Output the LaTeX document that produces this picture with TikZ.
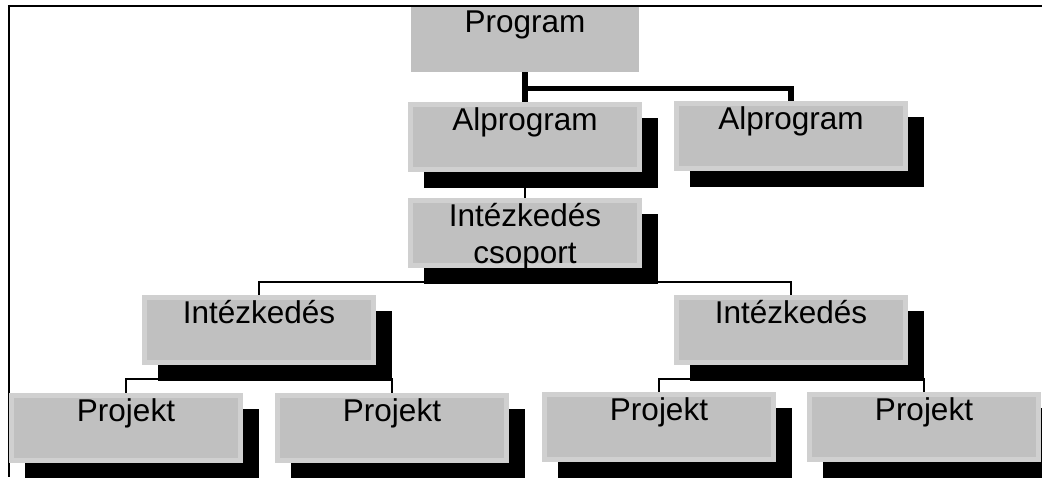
\documentclass[tikz,border=0pt]{standalone}
\usepackage{fontspec}
\setmainfont{Liberation Sans}
\usetikzlibrary{calc}
\definecolor{boxfill}{HTML}{C0C0C0}
\definecolor{boxrim}{HTML}{D0D0D0}
\pgfdeclarelayer{bg}
\pgfsetlayers{bg,main}
\newcommand{\orgnode}[4]{%
  \node[shadowbox] (#1-sh) at (#2+133,#3+51) {};
  \node[orgbox] (#1) at (#2+117,#3+35) {};
  \node[lbl] (#1-t) at (#2+117,#3+28) {#4};
}
\begin{document}
\begin{tikzpicture}[x=1pt,y=-1pt,
  orgbox/.style={draw=boxrim, fill=boxfill, line width=5pt, inner sep=0pt, outer sep=0pt, minimum width=229pt, minimum height=65pt},
  shadowbox/.style={fill=black, inner sep=0pt, outer sep=0pt, minimum width=234pt, minimum height=70pt},
  plainbox/.style={fill=boxfill, inner sep=0pt, outer sep=0pt},
  lbl/.style={font=\fontsize{31.5}{37}\selectfont, anchor=base, inner sep=0pt, text=black},
  conn/.style={line width=2pt},
  thickconn/.style={line width=5.5pt},
  frameline/.style={line width=2.5pt}]
\useasboundingbox (0,0) rectangle (1042,477);

% top node
\node[plainbox, minimum width=228pt, minimum height=65pt] (prog) at (525,39.5) {};
\node[lbl] (prog-t) at (525,32) {Program};

% boxes
\orgnode{al}{408}{102}{Alprogram}
\orgnode{ar}{674}{101}{Alprogram}
\orgnode{cs}{408}{198}{Intézkedés}
\node[lbl] (cs-t2) at (525,263) {csoport};
\orgnode{il}{142}{295}{Intézkedés}
\orgnode{ir}{674}{295}{Intézkedés}
\orgnode{pa}{9}{393}{Projekt}
\orgnode{pb}{275}{393}{Projekt}
\orgnode{pc}{542}{392}{Projekt}
\orgnode{pd}{807}{392}{Projekt}

\begin{pgfonlayer}{bg}
  % frame
  \draw[frameline] (7.75,6) -- (1042,6);
  \draw[frameline] (9,4.75) -- (9,477);
  % connectors
  \coordinate (m0) at ($(prog.south)!0.5!(al.north)$);
  \draw[thickconn] (prog.south) -- (al.north);
  \draw[thickconn] (m0) -| (ar.north);
  \draw[conn] (al.south) -- (cs.north);
  \coordinate (m1) at ($(cs.south)!0.5!(cs.south |- il.north)$);
  \draw[conn] (cs.south) -- (m1);
  \draw[conn] (il.north) |- (m1) -| (ir.north);
  \coordinate (m2) at ($(il.south)!0.5!(il.south |- pa.north)$);
  \draw[conn] (il.south) -- (m2);
  \draw[conn] (pa.north) |- (m2) -| (pb.north);
  \coordinate (m3) at ($(ir.south)!0.5!(ir.south |- pc.north)$);
  \draw[conn] (ir.south) -- (m3);
  \draw[conn] (pc.north) |- (m3) -| (pd.north);
\end{pgfonlayer}
\end{tikzpicture}
\end{document}
